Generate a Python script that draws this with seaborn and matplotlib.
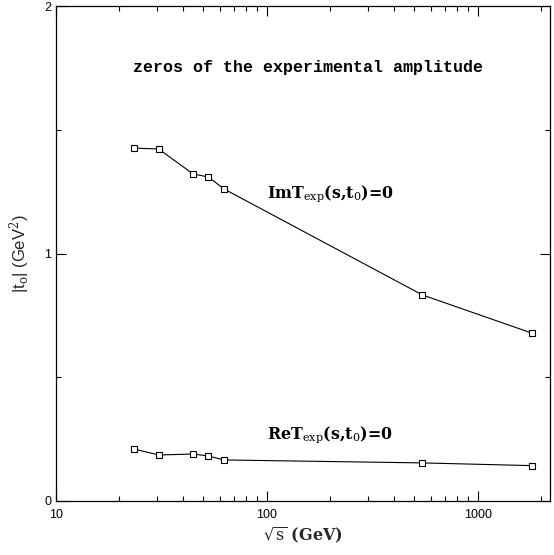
import matplotlib
matplotlib.use("Agg")
import matplotlib.pyplot as plt
import matplotlib.ticker as mticker
import seaborn as sns
import pandas as pd

# Data
sqrt_s = [23.5, 30.7, 44.7, 52.8, 62.5, 546.0, 1800.0]
im_zero = [1.427, 1.423, 1.322, 1.310, 1.262, 0.833, 0.679]
re_zero = [0.210, 0.186, 0.190, 0.182, 0.166, 0.154, 0.143]

x_ticks = [10, 100, 1000]
x_tick_labels = ["10", "100", "1000"]
y_ticks = [0, 1, 2]
y_tick_labels = ["0", "1", "2"]

df = pd.DataFrame({
    "sqrt_s": sqrt_s * 2,
    "t0": im_zero + re_zero,
    "curve": ["Im"] * len(sqrt_s) + ["Re"] * len(sqrt_s),
})

sns.set_style("ticks")
plt.rcParams["font.family"] = ["Liberation Sans", "DejaVu Sans"]
plt.rcParams["mathtext.fontset"] = "dejavuserif"

fig = plt.figure(figsize=(5.54, 5.55), dpi=100)
ax = fig.add_axes([0.101, 0.0973, 0.892, 0.8913])

sns.lineplot(data=df, x="sqrt_s", y="t0", units="curve", estimator=None,
             color="black", linewidth=0.8, marker="s", markersize=4,
             markerfacecolor="white", markeredgecolor="black",
             markeredgewidth=0.8, ax=ax, legend=False, sort=True)

ax.set_xscale("log")
ax.set_xlim(10, 2200)
ax.set_ylim(0, 2)

ax.set_xticks(x_ticks)
ax.set_xticklabels(x_tick_labels)
ax.xaxis.set_minor_locator(mticker.LogLocator(base=10, subs=range(2, 10), numticks=20))
ax.xaxis.set_minor_formatter(mticker.NullFormatter())
ax.set_yticks(y_ticks)
ax.set_yticklabels(y_tick_labels)
ax.yaxis.set_minor_locator(mticker.MultipleLocator(0.5))

ax.tick_params(which="both", direction="in", top=True, right=True,
               labelsize=9, colors="black", width=0.8)
ax.tick_params(which="major", length=7)
ax.tick_params(which="minor", length=3.5)
ax.tick_params(axis="x", which="major", pad=6)
for sp in ax.spines.values():
    sp.set_visible(True)
    sp.set_linewidth(0.9)
    sp.set_color("black")

ax.set_xlabel(r"$\sqrt{\rm s}$ (GeV)", family="DejaVu Serif", fontsize=11.5,
              fontweight="bold", labelpad=3)
ax.set_ylabel(r"|t$_{\rm o}$| (GeV$^2$)", fontsize=12, labelpad=9)

ax.text(157, 1.751, "zeros of the experimental amplitude", ha="center",
        va="center", fontsize=12, family="Liberation Mono",
        fontweight="bold", color="black")
serif = dict(family="DejaVu Serif", fontweight="bold", color="black")
ax.text(100, 1.245, r"ImT$_{\rm exp}$(s,t$_{\rm 0}$)=0", ha="left",
        va="center", fontsize=11.4, **serif)
ax.text(100, 0.267, r"ReT$_{\rm exp}$(s,t$_{\rm 0}$)=0", ha="left",
        va="center", fontsize=11.4, **serif)

fig.savefig("out.png", dpi=100)
